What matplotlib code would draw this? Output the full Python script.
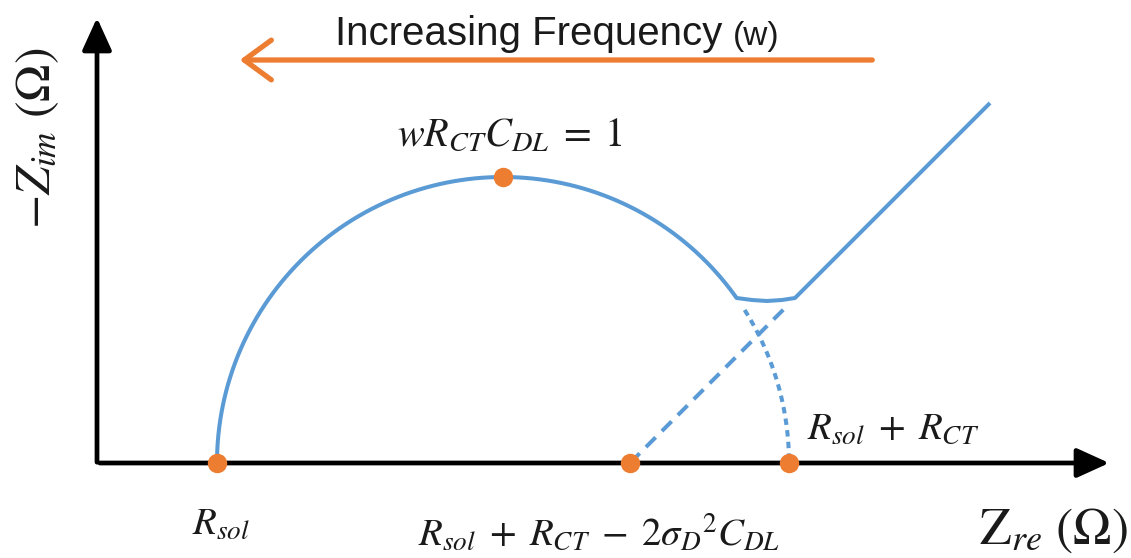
import numpy as np
import matplotlib.pyplot as plt
from matplotlib.patches import FancyArrowPatch

plt.rcParams['mathtext.fontset'] = 'stix'

# schematic values (plot units)
r_sol = 120.0          # Rsol intercept
r_ct = 572.0           # charge transfer resistance (semicircle diameter)
warburg_x0 = 533.0     # Rsol + Rct - 2 sigma^2 Cdl
warburg_slope = 1.0    # 45 degree diffusion line
warburg_end_x = 893.0
valley_y = 165.0
valley_x = [655.0, 670.0, 685.0]
valley_dip = [163.0, 162.0, 163.0]

blue = '#5B9BD5'
orange = '#ED7D31'
txt = '#1a1a1a'

fig = plt.figure(figsize=(11.31, 5.58), dpi=100)
ax = fig.add_axes([0, 0, 1, 1])
ax.set_xlim(-97, 1034)
ax.set_ylim(-95, 463)
ax.axis('off')

center = r_sol + r_ct/2
rad = r_ct/2

# solid curve: semicircle -> valley -> warburg line
th1 = np.arcsin(valley_y/rad)
th = np.linspace(np.pi, th1, 200)
xs = list(center + rad*np.cos(th)) + valley_x
ys = list(rad*np.sin(th)) + valley_dip
xw0 = warburg_x0 + valley_y/warburg_slope
xs += [xw0, warburg_end_x]
ys += [valley_y, (warburg_end_x - warburg_x0)*warburg_slope]
ax.plot(xs, ys, color=blue, lw=2.9, solid_capstyle='butt', zorder=3)

# dashed extensions
ax.plot([warburg_x0, 688], [0, (688 - warburg_x0)*warburg_slope], color=blue,
        lw=2.9, dashes=(3.4, 2.2), zorder=2)
th2 = np.linspace(np.arcsin(153/rad), 0, 60)
ax.plot(center + rad*np.cos(th2), rad*np.sin(th2), color=blue, lw=2.9,
        dashes=(1.6, 1.3), zorder=2)

# axes arrows
ax.add_patch(FancyArrowPatch((0, 0), (1015, 0), arrowstyle='-|>,head_length=1.1,head_width=0.5',
                             mutation_scale=18, color='black', lw=3.4, zorder=1))
ax.add_patch(FancyArrowPatch((0, -2), (0, 448), arrowstyle='-|>,head_length=1.1,head_width=0.5',
                             mutation_scale=18, color='black', lw=3.4, zorder=1))

# key points
ax.plot([r_sol, warburg_x0, r_sol + r_ct, center], [0, 0, 0, rad], 'o', color=orange,
        ms=14, mec='none', zorder=4)

# frequency arrow
ax.add_patch(FancyArrowPatch((778, 403), (140, 403), arrowstyle='->,head_length=0.75,head_width=0.55',
                             mutation_scale=26, color=orange, lw=3.8))
ax.text(238, 418, 'Increasing Frequency', fontsize=29, family='Liberation Sans',
        ha='left', va='baseline', color=txt)
ax.text(636, 418, '(w)', fontsize=24, family='Liberation Sans',
        ha='left', va='baseline', color=txt)

# labels
ax.text(413, 328, r'$wR_{CT}C_{DL}\;=\;1$', fontsize=29, ha='center', va='center', color=txt)
ax.text(710, 24, r'$R_{sol}\;+\;R_{CT}$', fontsize=28, ha='left', va='baseline', color=txt)
ax.text(95, -72, r'$R_{sol}$', fontsize=28, ha='left', va='baseline', color=txt)
ax.text(321, -83, r'$R_{sol}\;+\;R_{CT}\;-\;2\sigma_D{}^2C_{DL}$', fontsize=28,
        ha='left', va='baseline', color=txt)
ax.text(1031, -67, r'$\mathrm{Z}_{re}\ (\Omega)$', fontsize=37, ha='right', va='center', color=txt)
ax.text(-60, 325, r'$-Z_{im}\ (\Omega)$', fontsize=36, ha='center', va='center',
        rotation=90, color=txt)

fig.savefig('out.png', dpi=100)
